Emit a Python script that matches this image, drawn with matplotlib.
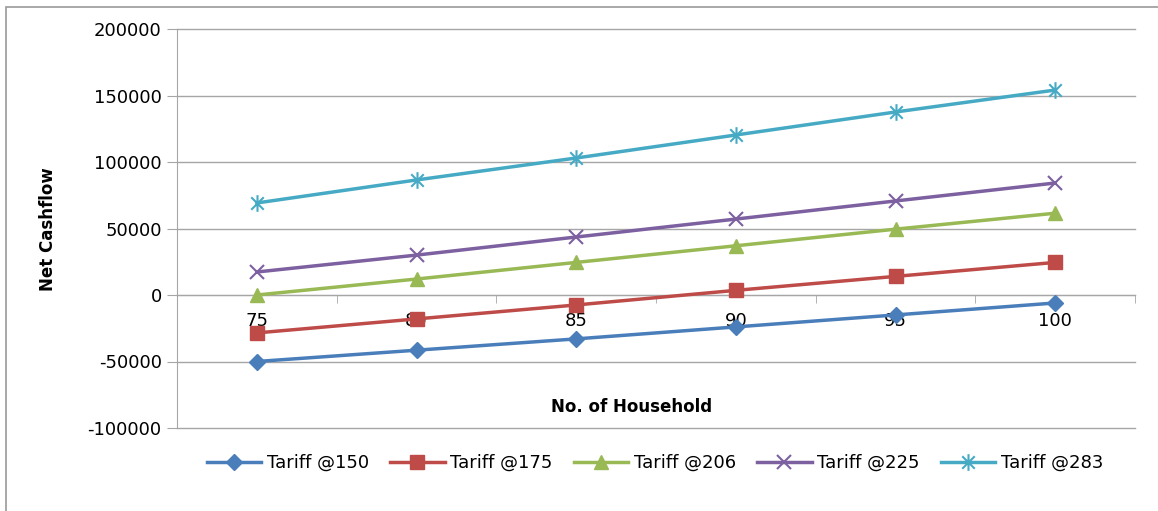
import matplotlib
matplotlib.use("Agg")
import matplotlib.pyplot as plt
from matplotlib.path import Path
from matplotlib.patches import Rectangle
from matplotlib.ticker import FixedLocator

households = ["75", "80", "85", "90", "95", "100"]
tariff_150 = [-50000, -41500, -33000, -24000, -15000, -6000]
tariff_175 = [-28500, -18000, -7500, 3500, 14000, 24500]
tariff_206 = [0, 12000, 24500, 37000, 49500, 61500]
tariff_225 = [17300, 30000, 43600, 57100, 70700, 84200]
tariff_283 = [69200, 86500, 103000, 120300, 137600, 154100]
series_labels = ["Tariff @150", "Tariff @175", "Tariff @206", "Tariff @225", "Tariff @283"]
y_ticks = [-100000, -50000, 0, 50000, 100000, 150000, 200000]

colors = ["#4A7EBB", "#BE4B48", "#98B954", "#7D60A0", "#46AAC5"]

star = Path([(0, -1), (0, 1), (-0.75, -0.75), (0.75, 0.75), (-0.75, 0.75), (0.75, -0.75)],
            [Path.MOVETO, Path.LINETO, Path.MOVETO, Path.LINETO, Path.MOVETO, Path.LINETO])
markers = ["D", "s", "^", "x", star]
msizes = [8, 10, 10, 10, 12]

fig = plt.figure(figsize=(11.58, 5.11), dpi=100)
fig.patches.append(Rectangle((6 / 1158, -0.1), 1.2, 1 - 7 / 511 + 0.1, transform=fig.transFigure,
                             fill=False, edgecolor="#999999", lw=1.2))
ax = fig.add_axes([177 / 1158, 1 - 428 / 511, (1135 - 177) / 1158, (428 - 29) / 511])

x = list(range(len(households)))
data = [tariff_150, tariff_175, tariff_206, tariff_225, tariff_283]
for vals, lab, c, m, ms in zip(data, series_labels, colors, markers, msizes):
    ax.plot(x, vals, color=c, lw=2.5, marker=m, markersize=ms, label=lab,
            markeredgewidth=1.5 if (m is star or m == "x") else 1,
            markeredgecolor=c, markerfacecolor=c, zorder=3)

ax.set_xlim(-0.5, len(households) - 0.5)
ax.set_ylim(-100000, 200000)
ax.set_yticks(y_ticks)
ax.set_yticklabels([str(v) for v in y_ticks])
ax.yaxis.grid(False)
for v in y_ticks:
    ax.axhline(v, color="#A6A6A6", lw=1, clip_on=False, zorder=1)
for s in ["top", "right"]:
    ax.spines[s].set_visible(False)
ax.spines["left"].set_color("#A6A6A6")
ax.spines["bottom"].set_position(("data", 0))
ax.spines["bottom"].set_color("#A6A6A6")
ax.set_xticks(x)
ax.set_xticklabels(households)
ax.xaxis.set_minor_locator(FixedLocator([i - 0.5 for i in range(len(households) + 1)]))
ax.tick_params(axis="x", which="major", length=0, pad=12, labelsize=13, colors="black")
ax.tick_params(axis="x", which="minor", length=6, color="#A6A6A6", direction="out")
ax.tick_params(axis="y", length=7, color="#A6A6A6", labelsize=13, pad=4)

fig.text(48 / 1158, 1 - 229 / 511, "Net Cashflow", rotation=90, ha="center", va="center",
         fontsize=12, fontweight="bold")
fig.text(632 / 1158, 1 - 407 / 511, "No. of Household", ha="center", va="center",
         fontsize=12, fontweight="bold")

fig.legend(loc="center", bbox_to_anchor=(655 / 1158, 1 - 463 / 511), ncol=5, frameon=False,
           fontsize=13, handlelength=3.0, handletextpad=0.3, columnspacing=1.2)

fig.savefig("out.png", dpi=100)
